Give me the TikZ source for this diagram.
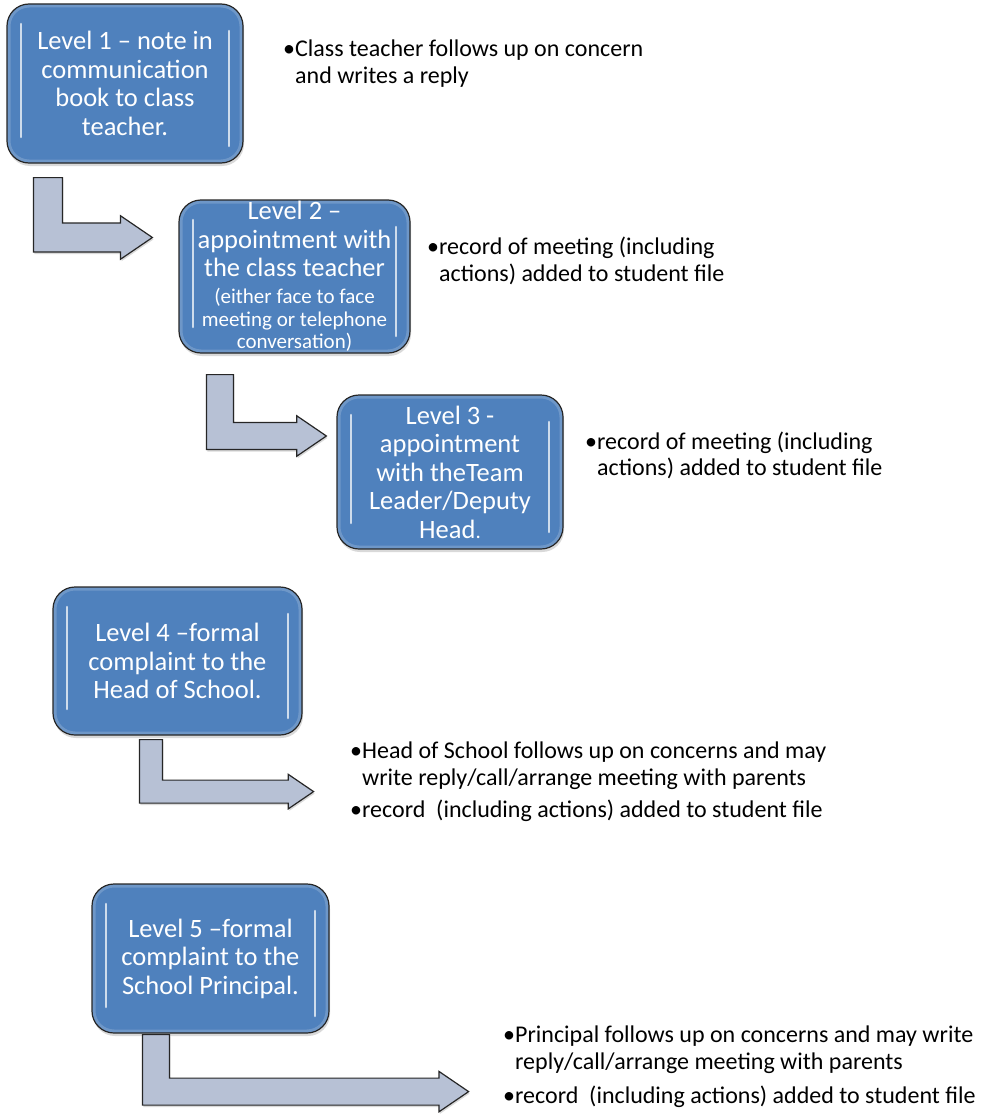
\documentclass[tikz,border=0pt]{standalone}
\usepackage{fontspec}
\setmainfont{Carlito}
\usepackage{xcolor}
\usetikzlibrary{calc,shadows}

\definecolor{boxblue}{HTML}{4F81BD}
\definecolor{arrowgray}{HTML}{B7C1D5}
\newcommand{\smallnote}{\fontsize{21}{22.5}\selectfont}

% bent arrow: stem top-left corner, tip, stem width
\newcommand{\bentarrow}[3]{%
  \draw[bent] let \p1=(#1), \p2=(#2) in
    (\x1,\y1) -- (\x1+#3,\y1) -- (\x1+#3,\y2+0.5*#3) -- (\x2-1.1*#3,\y2+0.5*#3)
    -- (\x2-1.1*#3,\y2+0.75*#3) -- (\x2,\y2) -- (\x2-1.1*#3,\y2-0.75*#3)
    -- (\x2-1.1*#3,\y2-0.5*#3) -- (\x1,\y2-0.5*#3) -- cycle;}

\begin{document}
\begin{tikzpicture}[
    x=1pt, y=-1pt,
    level/.style={rounded corners=22pt, fill=boxblue, draw=black!85, line width=1.2pt,
      text=white, align=center, inner sep=0pt, font=\fontsize{26.5}{28.5}\selectfont,
      drop shadow={shadow xshift=1pt, shadow yshift=-3pt, opacity=.3},
      path picture={
        \draw[rounded corners=22pt, line width=7pt, draw=white, opacity=.18]
          (path picture bounding box.south west) rectangle (path picture bounding box.north east);
        \draw[line width=2.6pt, draw=white!85!boxblue, line cap=round, opacity=.85]
          ([xshift=14pt,yshift=-20pt]path picture bounding box.north west)
          -- ([xshift=14pt,yshift=26pt]path picture bounding box.south west);
        \draw[line width=2.6pt, draw=white!85!boxblue, line cap=round, opacity=.85]
          ([xshift=-14pt,yshift=-27pt]path picture bounding box.north east)
          -- ([xshift=-14pt,yshift=17pt]path picture bounding box.south east);
      }},
    note/.style={anchor=north west, align=left, inner sep=0pt,
      font=\fontsize{24}{26.5}\selectfont},
    bent/.style={fill=arrowgray, draw=black!85, line width=1.2pt, line join=miter,
      drop shadow={shadow xshift=1pt, shadow yshift=-2pt, opacity=.3}}
]
\useasboundingbox (0,0) rectangle (980,1116);

% Levels
\node[level, minimum width=236pt, minimum height=159pt] (l1) at (125,83.5)
  {Level 1 -- note in\\communication\\book to class\\teacher.};
\node[level, inner ysep=-12pt, minimum width=231pt, minimum height=153pt] (l2) at (294.5,276.5)
  {Level 2 --\\appointment with\\the class teacher\\[-2pt]
   \smallnote(either face to face\\[-5.5pt]\smallnote meeting or telephone\\[-6pt]\smallnote conversation)};
\node[level, minimum width=226pt, minimum height=154pt] (l3) at (450,472)
  {Level 3 -\\appointment\\with theTeam\\Leader/Deputy\\Head{\smallnote.}};
\node[level, minimum width=249pt, minimum height=148pt] (l4) at (177.5,661)
  {Level 4 --formal\\complaint to the\\Head of School.};
\node[level, minimum width=237pt, minimum height=149pt] (l5) at (210.5,958.5)
  {Level 5 --formal\\complaint to the\\School Principal.};

% Notes
\node[note] (n1) at (283,40)
  {•Class teacher follows up on concern\\\hphantom{•}and writes a reply};
\node[note] (n2) at (427,237)
  {•record of meeting (including\\\hphantom{•}actions) added to student file};
\node[note] (n3) at (585,431.5)
  {•record of meeting (including\\\hphantom{•}actions) added to student file};
\node[note] (n4) at (350,742)
  {•Head of School follows up on concerns and may\\\hphantom{•}write reply/call/arrange meeting with parents\\[5.5pt]
   •record~ (including actions) added to student file};
\node[note] (n5) at (503,1026)
  {•Principal follows up on concerns and may write\\\hphantom{•}reply/call/arrange meeting with parents\\[7.5pt]
   •record~ (including actions) added to student file};

% Arrows
\coordinate (a1s) at ([xshift=27pt,yshift=-14pt]l1.south west);
\coordinate (a1t) at ([xshift=-26pt,yshift=39pt]l2.west);
\coordinate (a2s) at ([xshift=28pt,yshift=-21pt]l2.south west);
\coordinate (a2t) at ([xshift=-10pt,yshift=36pt]l3.west);
\coordinate (a3s) at ([xshift=87pt,yshift=-4pt]l4.south west);
\coordinate (a3t) at ([xshift=11pt,yshift=-56pt]l4.south east);
\coordinate (a4s) at ([xshift=51pt,yshift=-1pt]l5.south west);
\coordinate (a4t) at ([xshift=139pt,yshift=-58pt]l5.south east);
\bentarrow{a1s}{a1t}{29pt}
\bentarrow{a2s}{a2t}{27pt}
\bentarrow{a3s}{a3t}{23pt}
\bentarrow{a4s}{a4t}{27pt}

\end{tikzpicture}
\end{document}
